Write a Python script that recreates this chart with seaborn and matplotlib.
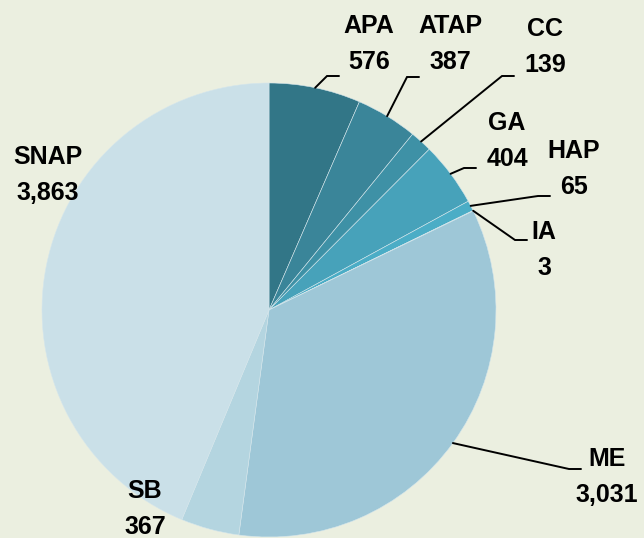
import numpy as np
import matplotlib
matplotlib.use('Agg')
import matplotlib.pyplot as plt
import seaborn as sns

sns.set_style('white')
plt.rcParams['font.family'] = ['Liberation Sans', 'DejaVu Sans']

labels = ['APA', 'ATAP', 'CC', 'GA', 'HAP', 'IA', 'ME', 'SB', 'SNAP']
values = [576, 387, 139, 404, 65, 3, 3031, 367, 3863]
colors = ['#327687', '#3A8599', '#3E91A6', '#47A2BA', '#4BADC6', '#4FB3CC',
          '#9EC7D7', '#B4D5E0', '#CAE0E8']

# label layout in pixels: text centre, leader elbow (None = no leader)
text_px = [(369, 44), (450, 44), (545, 47), (507, 141), (574, 169),
           (544, 250), (607, 477), (145, 509), (48, 175)]
elbow_px = [(327, 76), (407, 77), (502, 76), (464, 168), (538, 196),
            (515, 240), (569, 469), None, None]
bg = '#EBEFE0'
W, H = 644, 538
cx, cy, R = 269, 310, 227

def to_data(p):
    return ((p[0] - cx) / R, (cy - p[1]) / R)

fig = plt.figure(figsize=(W / 100, H / 100), dpi=100, facecolor=bg)
ax = fig.add_axes([0, 0, 1, 1])
ax.set_facecolor(bg)

wedges, _ = ax.pie(values, colors=colors, startangle=90, counterclock=False,
                   radius=1, wedgeprops=dict(edgecolor='#D5E6EC', linewidth=0.4))

for i, w in enumerate(wedges):
    tx, ty = to_data(text_px[i])
    ax.text(tx, ty, f'{labels[i]}\n{values[i]:,}', ha='center', va='center',
            fontsize=18, fontweight='bold', color='black', linespacing=1.65)
    if elbow_px[i] is not None:
        mid = np.deg2rad((w.theta1 + w.theta2) / 2)
        ax_, ay_ = np.cos(mid), np.sin(mid)
        ex, ey = to_data(elbow_px[i])
        ax.plot([ax_, ex, ex + 12 / R], [ay_, ey, ey], color='black', lw=1.4,
                solid_joinstyle='miter')

ax.set_xlim(-cx / R, (W - cx) / R)
ax.set_ylim(-(H - cy) / R, cy / R)
ax.set_aspect('equal')
ax.axis('off')

fig.savefig('out.png', dpi=100, facecolor=bg)
